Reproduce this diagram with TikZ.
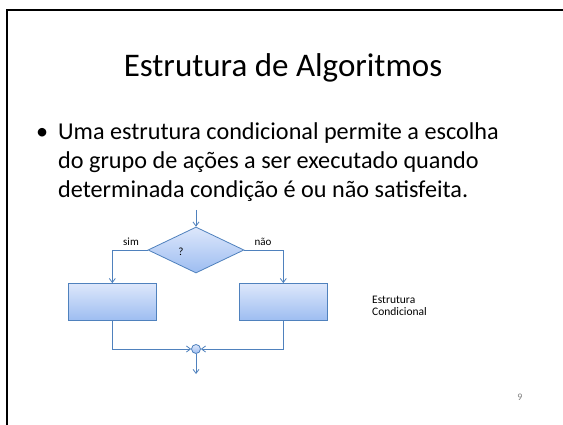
\documentclass[tikz,border=0pt]{standalone}
\usepackage{fontspec}
\setmainfont{Carlito}
\usetikzlibrary{arrows.meta,shapes.geometric}
\definecolor{flowline}{HTML}{4F81BD}
\definecolor{filltop}{HTML}{DDE7FB}
\definecolor{fillbot}{HTML}{9DBDF1}
\tikzset{
  flowbox/.style={draw=flowline, line width=0.8pt, top color=filltop, bottom color=fillbot, minimum width=88pt, minimum height=37pt, inner sep=0pt},
  decision/.style={diamond, draw=flowline, line width=0.8pt, top color=filltop, bottom color=fillbot, minimum width=96pt, minimum height=46pt, inner sep=0pt, aspect=2.087},
  merge/.style={circle, draw=flowline, line width=0.8pt, top color=filltop, bottom color=fillbot, minimum size=9pt, inner sep=0pt},
  conn/.style={draw=flowline, line width=0.8pt, -{Straight Barb[length=4pt,width=6pt]}},
  smalltext/.style={font=\fontsize{11}{13}\selectfont, inner sep=0pt},
  bodytext/.style={font=\fontsize{24.2}{29}\selectfont, anchor=base west, inner sep=0pt}
}
\begin{document}
\begin{tikzpicture}[x=1pt,y=-1pt]
\useasboundingbox (0,0) rectangle (563,425);
\fill[white] (0,0) rectangle (563,425);
\draw[line width=2pt] (7,426) -- (7,10) -- (564,10);
\node[font=\fontsize{33}{38}\selectfont, anchor=base, inner sep=0pt] (title) at (283,77) {Estrutura de Algoritmos};
\node[bodytext] (bullet) at (36,140) {•};
\node[bodytext] (l1) at (58,140) {Uma estrutura condicional permite a escolha};
\node[bodytext] (l2) at (58,169) {do grupo de ações a ser executado quando};
\node[bodytext] (l3) at (58,198) {determinada condição é ou não satisfeita.};
\coordinate (start) at (196,210);
\node[decision] (dec) at (196,250) {};
\node[smalltext] (q) at (181,252) {?};
\node[flowbox] (boxL) at (112.3,302) {};
\node[flowbox] (boxR) at (283.3,302) {};
\node[merge] (join) at (196,349) {};
\coordinate (end) at (196,374);
\draw[conn] (start) -- (dec.north);
\draw[conn] (dec.west) -| (boxL.north);
\draw[conn] (dec.east) -| (boxR.north);
\draw[conn] (boxL.south) |- (join.west);
\draw[conn] (boxR.south) |- (join.east);
\draw[conn] (join.south) -- (end);
\node[smalltext] (sim) at (131,242) {sim};
\node[smalltext] (nao) at (263,242) {não};
\node[smalltext, align=left, anchor=west, font=\fontsize{11.5}{12.5}\selectfont] (lbl) at (372,306) {Estrutura\\Condicional};
\node[font=\fontsize{10}{11}\selectfont, text=gray, inner sep=0pt] (pg) at (520,397) {9};
\end{tikzpicture}
\end{document}
